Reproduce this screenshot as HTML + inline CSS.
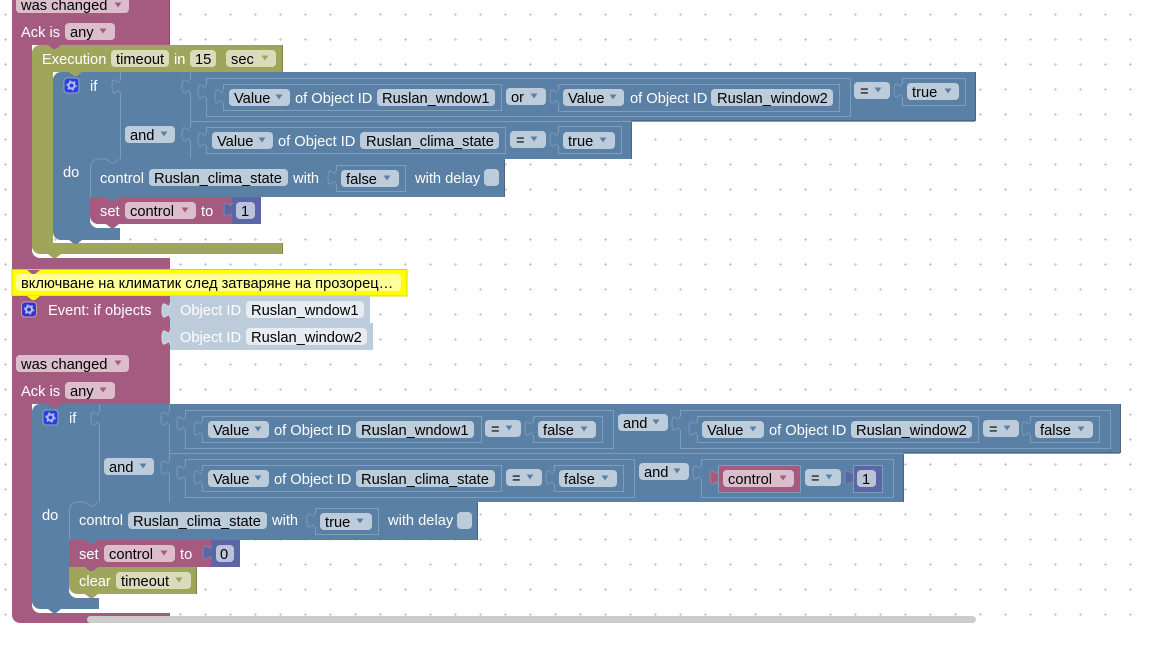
<!DOCTYPE html>
<html>
<head>
<meta charset="utf-8">
<style>
html,body{margin:0;padding:0;background:#fff;width:1152px;height:648px;overflow:hidden}
svg{display:block}
text{font-family:"Liberation Sans",sans-serif;font-size:14.67px;fill:#fff}
text.k{fill:#000}
.b{fill:#5b80a5}
.m{fill:#a55b80}
.o{fill:#9fa55b}
.n{fill:#5b67a5}
.eb{fill:none;stroke:#496684;stroke-width:1;shape-rendering:crispEdges}
.em{fill:none;stroke:#844966;stroke-width:1;shape-rendering:crispEdges}
.eo{fill:none;stroke:#7f8449;stroke-width:1;shape-rendering:crispEdges}
.en{fill:none;stroke:#495284;stroke-width:1;shape-rendering:crispEdges}
.h{fill:none;stroke:#7c9abb;stroke-width:1}
.r{fill:none;stroke:#809ebc;stroke-width:1;shape-rendering:crispEdges}
.l{stroke:#809ebc;stroke-width:1;fill:none;shape-rendering:crispEdges}
.t{fill:#5b80a5;stroke:#7c9abb;stroke-width:1}
.fb{fill:#bdccdb}
.fm{fill:#dbbdcc}
.fo{fill:#d9dbbd}
.fx{fill:#e6ecf2}
</style>
</head>
<body>
<svg width="1152" height="648" viewBox="0 0 1152 648" xmlns="http://www.w3.org/2000/svg">
<defs>
<pattern id="g" patternUnits="userSpaceOnUse" x="0" y="0" width="25" height="25">
<path d="M4,14.5h3M5.5,13v3" stroke="#ccc" stroke-width="1" fill="none"/>
</pattern>
<path id="tb" d="M0,0c0,10 -8,-8 -8,7.5s8,-2.5 8,7.5"/>
<g id="tab">
<path d="M0,0c0,10 -8,-8 -8,7.5s8,-2.5 8,7.5"/>
<path d="M0.5,1V14" stroke="#5b80a5" stroke-width="1.500" fill="none"/>
</g>
<path id="a" d="M-3.5,-2.5h7l-3.5,5z"/>
<path id="nt" d="M0,0l5,4h3l5,-4z"/>
<g id="gear">
<circle cx="0" cy="0" r="3" fill="none" stroke="#b4c0f0" stroke-width="2"/>
<circle cx="0" cy="0" r="4.6" fill="none" stroke="#b4c0f0" stroke-width="1.300" stroke-dasharray="1.800 3"/>
</g>
</defs>
<rect x="0" y="0" width="1152" height="623" fill="url(#g)"/>

<!-- top event block -->
<path class="m" d="M12,-2H170V45H32V250a8,8 0 0 0 8,8H170V270H12Z"/>
<path class="em" d="M169.500,0V45"/>
<rect class="fm" x="16" y="-4" width="113" height="17" rx="4"/>
<text class="k" x="21" y="10">was changed</text>
<use href="#a" x="118" y="5" fill="#a55b80"/>
<text x="21" y="37">Ack is</text>
<rect class="fm" x="65" y="23" width="50" height="17" rx="4"/>
<text class="k" x="70" y="37">any</text>
<use href="#a" x="103" y="31" fill="#a55b80"/>

<!-- execution -->
<path class="o" d="M32,53a8,8 0 0 1 8,-8H283V72H53V243H283V254H61l-5,4h-3l-5,-4H40a8,8 0 0 1 -8,-8Z"/>
<use href="#nt" x="48" y="45" fill="#a55b80"/>
<path class="eo" d="M282.500,45V72M282.500,243V254"/>
<text x="42" y="64">Execution</text>
<rect class="fo" x="111" y="50" width="58" height="17" rx="4"/>
<text class="k" x="116" y="64">timeout</text>
<text x="174" y="64">in</text>
<rect class="fo" x="190" y="50" width="26" height="17" rx="4"/>
<text class="k" x="195" y="64">15</text>
<rect class="fo" x="226" y="50" width="50" height="17" rx="4"/>
<text class="k" x="231" y="64">sec</text>
<use href="#a" x="265" y="58" fill="#9fa55b"/>

<!-- if block 1 -->
<path class="b" d="M53,80a8,8 0 0 1 8,-8H976V121H632V159H90V220a8,8 0 0 0 8,8H120V240H82l-5,4h-3l-5,-4H61a8,8 0 0 1 -8,-8Z"/>
<use href="#nt" x="69" y="72" fill="#9fa55b"/>
<path class="eb" d="M975.500,72V120.500H631.500V159"/>
<rect x="64" y="78" width="15" height="15" rx="3.500" fill="#2b3fe0" stroke="#8ca6c0"/>
<use href="#gear" x="71.500" y="85.500"/>
<text x="90" y="91">if</text>
<text x="63" y="177">do</text>
<path class="l" d="M120.500,72V159M190.500,72V158M190,121.500H975"/>
<use href="#tab" class="t" x="120" y="79"/>
<use href="#tab" class="t" x="190" y="79"/>
<rect class="r" x="206.500" y="78.500" width="644" height="38"/>
<use href="#tab" class="t" x="206" y="84"/>
<rect class="r" x="223.500" y="84.500" width="278" height="26"/>
<use href="#tab" class="t" x="223" y="89"/>
<rect class="fb" x="229" y="89" width="61" height="17" rx="4"/>
<text class="k" x="234" y="103">Value</text>
<use href="#a" x="279" y="97" fill="#5b80a5"/>
<text x="295" y="103">of Object ID</text>
<rect class="fb" x="377" y="89" width="118" height="17" rx="4"/>
<text class="k" x="382" y="103">Ruslan_wndow1</text>
<rect class="fb" x="506" y="88" width="40" height="17" rx="4"/>
<text class="k" x="511" y="102">or</text>
<use href="#a" x="534" y="96" fill="#5b80a5"/>
<rect class="r" x="558.500" y="84.500" width="281" height="27"/>
<use href="#tab" class="t" x="558" y="89"/>
<rect class="fb" x="563" y="89" width="61" height="17" rx="4"/>
<text class="k" x="568" y="103">Value</text>
<use href="#a" x="613" y="97" fill="#5b80a5"/>
<text x="630" y="103">of Object ID</text>
<rect class="fb" x="711" y="89" width="122" height="17" rx="4"/>
<text class="k" x="717" y="103">Ruslan_window2</text>
<rect class="fb" x="854" y="82" width="36" height="17" rx="4"/>
<text class="k" x="860" y="96">=</text>
<use href="#a" x="878" y="90" fill="#5b80a5"/>
<rect class="r" x="902.500" y="78.500" width="63" height="27"/>
<use href="#tab" class="t" x="902" y="83"/>
<rect class="fb" x="907" y="83" width="52" height="17" rx="4"/>
<text class="k" x="912" y="97">true</text>
<use href="#a" x="948" y="91" fill="#5b80a5"/>

<rect class="fb" x="125" y="126" width="50" height="17" rx="4"/>
<text class="k" x="130" y="140">and</text>
<use href="#a" x="164" y="134" fill="#5b80a5"/>
<use href="#tab" class="t" x="190" y="127"/>
<rect class="r" x="206.500" y="127.500" width="299" height="26"/>
<use href="#tab" class="t" x="206" y="132"/>
<rect class="fb" x="212" y="132" width="61" height="17" rx="4"/>
<text class="k" x="217" y="146">Value</text>
<use href="#a" x="262" y="140" fill="#5b80a5"/>
<text x="278" y="146">of Object ID</text>
<rect class="fb" x="360" y="132" width="139" height="17" rx="4"/>
<text class="k" x="366" y="146">Ruslan_clima_state</text>
<rect class="fb" x="510" y="131" width="36" height="17" rx="4"/>
<text class="k" x="516" y="145">=</text>
<use href="#a" x="534" y="139" fill="#5b80a5"/>
<rect class="r" x="558.500" y="126.500" width="63" height="27"/>
<use href="#tab" class="t" x="558" y="132"/>
<rect class="fb" x="563" y="132" width="52" height="17" rx="4"/>
<text class="k" x="568" y="146">true</text>
<use href="#a" x="603" y="140" fill="#5b80a5"/>

<!-- control 1 -->
<rect x="90" y="159" width="9" height="9" fill="#5b80a5"/>
<path class="b" d="M90,167a8,8 0 0 1 8,-8H505V197H119l-5,4h-3l-5,-4H90Z"/>
<use href="#nt" x="106" y="159" fill="#5b80a5"/>
<path class="h" d="M90.500,197V167a8,8 0 0 1 8,-8h7.500l5,4h3l5,-4"/>
<path class="eb" d="M504.500,160V197"/>
<text x="100" y="183">control</text>
<rect class="fb" x="149" y="169" width="139" height="17" rx="4"/>
<text class="k" x="154" y="183">Ruslan_clima_state</text>
<text x="293" y="183">with</text>
<rect class="r" x="336.500" y="165.500" width="69" height="26"/>
<use href="#tab" class="t" x="336" y="170"/>
<rect class="fb" x="341" y="170" width="58" height="17" rx="4"/>
<text class="k" x="346" y="184">false</text>
<use href="#a" x="387" y="178" fill="#5b80a5"/>
<text x="415" y="183">with delay</text>
<rect class="fb" x="484" y="169" width="15" height="17" rx="4"/>

<!-- set 1 -->
<path class="m" d="M90,197H106l5,4h3l5,-4H232V224H119l-5,4h-3l-5,-4H98a8,8 0 0 1 -8,-8Z"/>
<use href="#nt" x="106" y="197" fill="#5b80a5"/>
<text x="100" y="216">set</text>
<rect class="fm" x="125" y="202" width="71" height="17" rx="4"/>
<text class="k" x="130" y="216">control</text>
<use href="#a" x="185" y="210" fill="#a55b80"/>
<text x="201" y="216">to</text>
<rect class="n" x="232" y="197" width="29" height="27"/>
<use href="#tb" x="232" y="202" fill="#5b67a5" stroke="#7c85b5"/>
<rect x="236" y="202" width="19" height="17" rx="4" fill="#bdc2db"/>
<text class="k" x="241" y="216">1</text>

<!-- comment -->
<rect x="12" y="269.500" width="395" height="26.500" fill="#ffff00" stroke="#d8d800"/>
<use href="#nt" x="27" y="270" fill="#a55b80"/>
<rect x="16" y="274" width="385" height="17" rx="4" fill="#ffff99"/>
<text class="k" x="21" y="288" style="font-family:'Liberation Sans','Noto Sans CJK SC',sans-serif">включване на климатик след затваряне на прозорец…</text>

<!-- second event block -->
<path class="m" d="M12,296H170V404H32V605a8,8 0 0 0 8,8H170V623H20a8,8 0 0 1 -8,-8Z"/>
<path d="M27,296l5,4h3l5,-4z" fill="#ffff00"/>
<rect x="21.500" y="302" width="15" height="15" rx="3.500" fill="#3535c8" stroke="#c7a0b4"/>
<use href="#gear" x="29" y="309.500"/>
<text x="48" y="315">Event: if objects</text>

<rect x="170" y="296" width="200" height="27" fill="#bdccdb"/>
<use href="#tb" x="170" y="303" fill="#bdccdb" stroke="#d3dde7"/>
<text x="180" y="315">Object ID</text>
<rect class="fx" x="246" y="301" width="118" height="17" rx="4"/>
<text class="k" x="251" y="315">Ruslan_wndow1</text>
<rect x="170" y="323" width="203" height="27" fill="#bdccdb"/>
<use href="#tb" x="170" y="330" fill="#bdccdb" stroke="#d3dde7"/>
<text x="180" y="342">Object ID</text>
<rect class="fx" x="246" y="328" width="121" height="17" rx="4"/>
<text class="k" x="251" y="342">Ruslan_window2</text>

<rect class="fm" x="16" y="355" width="113" height="17" rx="4"/>
<text class="k" x="21" y="369">was changed</text>
<use href="#a" x="118" y="363" fill="#a55b80"/>
<text x="21" y="396">Ack is</text>
<rect class="fm" x="65" y="382" width="50" height="17" rx="4"/>
<text class="k" x="70" y="396">any</text>
<use href="#a" x="103" y="390" fill="#a55b80"/>

<!-- if block 2 -->
<path class="b" d="M32,412a8,8 0 0 1 8,-8H1121V453H904V502H69V590a8,8 0 0 0 8,8H99V609H61l-5,4h-3l-5,-4H40a8,8 0 0 1 -8,-8Z"/>
<use href="#nt" x="48" y="404" fill="#a55b80"/>
<path class="eb" d="M1120.500,404V452.500H903.500V502"/>
<rect x="43" y="410" width="15" height="15" rx="3.500" fill="#2b3fe0" stroke="#8ca6c0"/>
<use href="#gear" x="50.500" y="417.500"/>
<text x="69" y="423">if</text>
<text x="42" y="520">do</text>
<path class="l" d="M99.500,404V502M169.500,404V502M169,453.500H1120"/>
<use href="#tab" class="t" x="99" y="411"/>
<use href="#tab" class="t" x="169" y="411"/>
<rect class="r" x="185.500" y="410.500" width="428" height="38"/>
<use href="#tab" class="t" x="185" y="416"/>
<rect class="r" x="202.500" y="416.500" width="279" height="26"/>
<use href="#tab" class="t" x="202" y="421"/>
<rect class="fb" x="208" y="421" width="61" height="17" rx="4"/>
<text class="k" x="213" y="435">Value</text>
<use href="#a" x="258" y="429" fill="#5b80a5"/>
<text x="274" y="435">of Object ID</text>
<rect class="fb" x="356" y="421" width="118" height="17" rx="4"/>
<text class="k" x="361" y="435">Ruslan_wndow1</text>
<rect class="fb" x="485" y="420" width="36" height="17" rx="4"/>
<text class="k" x="491" y="434">=</text>
<use href="#a" x="509" y="428" fill="#5b80a5"/>
<rect class="r" x="533.500" y="416.500" width="69" height="26"/>
<use href="#tab" class="t" x="533" y="421"/>
<rect class="fb" x="538" y="421" width="58" height="17" rx="4"/>
<text class="k" x="543" y="435">false</text>
<use href="#a" x="584" y="429" fill="#5b80a5"/>

<rect class="fb" x="618" y="414" width="50" height="17" rx="4"/>
<text class="k" x="623" y="428">and</text>
<use href="#a" x="656" y="422" fill="#5b80a5"/>
<rect class="r" x="680.500" y="410.500" width="430" height="38"/>
<use href="#tab" class="t" x="680" y="416"/>
<rect class="r" x="697.500" y="416.500" width="281" height="26"/>
<use href="#tab" class="t" x="697" y="421"/>
<rect class="fb" x="702" y="421" width="62" height="17" rx="4"/>
<text class="k" x="707" y="435">Value</text>
<use href="#a" x="753" y="429" fill="#5b80a5"/>
<text x="769" y="435">of Object ID</text>
<rect class="fb" x="851" y="421" width="121" height="17" rx="4"/>
<text class="k" x="856" y="435">Ruslan_window2</text>
<rect class="fb" x="983" y="420" width="36" height="17" rx="4"/>
<text class="k" x="989" y="434">=</text>
<use href="#a" x="1007" y="428" fill="#5b80a5"/>
<rect class="r" x="1030.500" y="416.500" width="69" height="26"/>
<use href="#tab" class="t" x="1030" y="421"/>
<rect class="fb" x="1035" y="421" width="58" height="17" rx="4"/>
<text class="k" x="1040" y="435">false</text>
<use href="#a" x="1081" y="429" fill="#5b80a5"/>

<rect class="fb" x="104" y="458" width="50" height="17" rx="4"/>
<text class="k" x="109" y="472">and</text>
<use href="#a" x="143" y="466" fill="#5b80a5"/>
<use href="#tab" class="t" x="169" y="460"/>
<rect class="r" x="185.500" y="459.500" width="449" height="38"/>
<use href="#tab" class="t" x="185" y="465"/>
<rect class="r" x="202.500" y="465.500" width="299" height="26"/>
<use href="#tab" class="t" x="202" y="470"/>
<rect class="fb" x="208" y="470" width="61" height="17" rx="4"/>
<text class="k" x="213" y="484">Value</text>
<use href="#a" x="258" y="478" fill="#5b80a5"/>
<text x="274" y="484">of Object ID</text>
<rect class="fb" x="356" y="470" width="139" height="17" rx="4"/>
<text class="k" x="361" y="484">Ruslan_clima_state</text>
<rect class="fb" x="506" y="469" width="36" height="17" rx="4"/>
<text class="k" x="512" y="483">=</text>
<use href="#a" x="530" y="477" fill="#5b80a5"/>
<rect class="r" x="554.500" y="465.500" width="69" height="26"/>
<use href="#tab" class="t" x="554" y="470"/>
<rect class="fb" x="559" y="470" width="58" height="17" rx="4"/>
<text class="k" x="564" y="484">false</text>
<use href="#a" x="605" y="478" fill="#5b80a5"/>

<rect class="fb" x="639" y="463" width="50" height="17" rx="4"/>
<text class="k" x="644" y="477">and</text>
<use href="#a" x="677" y="471" fill="#5b80a5"/>
<rect class="r" x="701.500" y="459.500" width="192" height="38"/>
<use href="#tab" class="t" x="701" y="465"/>
<rect class="m" x="718" y="465" width="82" height="27"/>
<path class="r" d="M718.500,465.500H800.500V492.500H718.500V465.500"/>
<use href="#tb" x="718" y="470" fill="#a55b80" stroke="#b67a98"/>
<rect class="fm" x="723" y="470" width="71" height="17" rx="4"/>
<text class="k" x="728" y="484">control</text>
<use href="#a" x="783" y="478" fill="#a55b80"/>
<rect class="fb" x="805" y="469" width="36" height="17" rx="4"/>
<text class="k" x="811" y="483">=</text>
<use href="#a" x="829" y="477" fill="#5b80a5"/>
<rect class="n" x="853" y="465" width="29" height="27"/>
<path class="r" d="M853.500,465.500H882.500V492.500H853.500V465.500"/>
<use href="#tb" x="853" y="470" fill="#5b67a5" stroke="#7c85b5"/>
<rect x="857" y="470" width="19" height="17" rx="4" fill="#bdc2db"/>
<text class="k" x="862" y="484">1</text>

<!-- control 2 -->
<rect x="69" y="502" width="9" height="9" fill="#5b80a5"/>
<path class="b" d="M69,510a8,8 0 0 1 8,-8H478V540H98l-5,4h-3l-5,-4H69Z"/>
<use href="#nt" x="85" y="502" fill="#5b80a5"/>
<path class="h" d="M69.500,540V510a8,8 0 0 1 8,-8h7.500l5,4h3l5,-4"/>
<path class="eb" d="M477.500,503V540"/>
<text x="79" y="525">control</text>
<rect class="fb" x="128" y="512" width="139" height="17" rx="4"/>
<text class="k" x="133" y="526">Ruslan_clima_state</text>
<text x="272" y="525">with</text>
<rect class="r" x="315.500" y="508.500" width="63" height="26"/>
<use href="#tab" class="t" x="315" y="513"/>
<rect class="fb" x="320" y="513" width="52" height="17" rx="4"/>
<text class="k" x="325" y="527">true</text>
<use href="#a" x="360" y="521" fill="#5b80a5"/>
<text x="388" y="525">with delay</text>
<rect class="fb" x="457" y="512" width="15" height="17" rx="4"/>

<!-- set 2 -->
<path class="m" d="M69,540H211V567H98l-5,4h-3l-5,-4H69Z"/>
<use href="#nt" x="85" y="540" fill="#5b80a5"/>
<text x="79" y="559">set</text>
<rect class="fm" x="104" y="545" width="71" height="17" rx="4"/>
<text class="k" x="109" y="559">control</text>
<use href="#a" x="164" y="553" fill="#a55b80"/>
<text x="180" y="559">to</text>
<rect class="n" x="211" y="540" width="29" height="27"/>
<use href="#tb" x="211" y="545" fill="#5b67a5" stroke="#7c85b5"/>
<rect x="216" y="545" width="18" height="17" rx="4" fill="#bdc2db"/>
<text class="k" x="220" y="559">0</text>

<!-- clear -->
<path class="o" d="M69,567H197V594H98l-5,4h-3l-5,-4H77a8,8 0 0 1 -8,-8Z"/>
<use href="#nt" x="85" y="567" fill="#a55b80"/>
<path class="eo" d="M196.500,567V594"/>
<text x="79" y="586">clear</text>
<rect class="fo" x="116" y="572" width="75" height="17" rx="4"/>
<text class="k" x="121" y="586">timeout</text>
<use href="#a" x="179" y="580" fill="#9fa55b"/>

<!-- scrollbar -->
<rect x="87" y="616" width="889" height="7" rx="3.500" fill="#ccc"/>
</svg>
</body>
</html>
